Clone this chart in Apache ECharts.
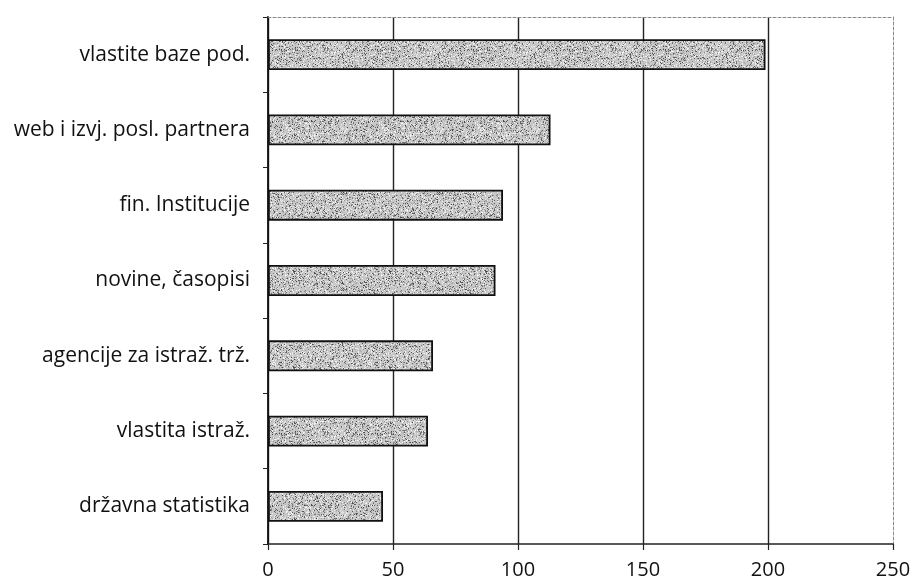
<!DOCTYPE html>
<html>
<head>
<meta charset="utf-8">
<script src="https://cdn.jsdelivr.net/npm/echarts@6/dist/echarts.min.js"></script>
<style>
  html, body { margin: 0; padding: 0; background: #fff; }
  #chart { width: 916px; height: 582px; }
</style>
</head>
<body>
<div id="chart"></div>
<script>
// Sources of business information (number of responses)
const categories = [
  'vlastite baze pod.',
  'web i izvj. posl. partnera',
  'fin. Institucije',
  'novine, časopisi',
  'agencije za istraž. trž.',
  'vlastita istraž.',
  'državna statistika'
];
const counts = [199, 113, 94, 91, 66, 64, 46];
const xTicks = [0, 50, 100, 150, 200, 250];

// Speckled grey fill for the bars (deterministic pseudo-random grain)
function grainPattern() {
  const c = document.createElement('canvas');
  c.width = 96; c.height = 96;
  const ctx = c.getContext('2d');
  ctx.fillStyle = '#c8c8c8';
  ctx.fillRect(0, 0, 96, 96);
  let s = 12345;
  const rnd = () => { s = (s * 1103515245 + 12345) & 0x7fffffff; return s / 0x7fffffff; };
  for (let i = 0; i < 3000; i++) {
    const x = Math.floor(rnd() * 96), y = Math.floor(rnd() * 96);
    const g = Math.floor(70 + rnd() * 120);
    ctx.fillStyle = `rgb(${g},${g},${g})`;
    ctx.fillRect(x, y, 1, 1);
  }
  for (let i = 0; i < 1400; i++) {
    const x = Math.floor(rnd() * 96), y = Math.floor(rnd() * 96);
    ctx.fillStyle = '#efefef';
    ctx.fillRect(x, y, 1, 1);
  }
  return c;
}

const chart = echarts.init(document.getElementById('chart'), null, { renderer: 'canvas' });
const font = '"Open Sans", "Noto Sans", sans-serif';

chart.setOption({
  animation: false,
  backgroundColor: '#ffffff',
  grid: { left: 268, right: 23, top: 17, bottom: 38, containLabel: false },
  xAxis: [{
    type: 'value',
    min: 0, max: 250, interval: 50,
    axisLine: { show: true, lineStyle: { color: '#222', width: 1.5 } },
    axisTick: { show: true, length: 6, lineStyle: { color: '#222', width: 1.2 } },
    axisLabel: {
      margin: 16, color: '#111', fontSize: 20, fontFamily: font,
      formatter: v => xTicks.includes(v) ? String(v) : ''
    },
    splitLine: {
      show: true,
      lineStyle: { color: ['#222', '#222', '#222', '#222', '#222', 'rgba(0,0,0,0)'], width: 1.4 }
    }
  }, {
    type: 'value', position: 'top', min: 0, max: 250,
    axisLine: { show: true, onZero: false, lineStyle: { color: '#888', width: 1, type: [3, 2] } },
    axisTick: { show: false }, axisLabel: { show: false }, splitLine: { show: false }
  }],
  yAxis: [{
    type: 'category',
    data: categories,
    inverse: true,
    axisLine: { show: true, lineStyle: { color: '#111', width: 1.8 } },
    axisTick: { show: true, length: 5, lineStyle: { color: '#222', width: 1 } },
    axisLabel: { margin: 18, color: '#111', fontSize: 21, fontFamily: font },
    splitLine: { show: false }
  }, {
    type: 'category', position: 'right', data: categories, inverse: true,
    axisLine: { show: true, onZero: false, lineStyle: { color: '#888', width: 1, type: [3, 2] } },
    axisTick: { show: false }, axisLabel: { show: false }, splitLine: { show: false }
  }],
  series: [{
    type: 'bar',
    data: counts,
    barWidth: '41%',
    itemStyle: {
      color: { image: grainPattern(), repeat: 'repeat' },
      borderColor: '#111',
      borderWidth: 1.8
    }
  }]
});
</script>
</body>
</html>
